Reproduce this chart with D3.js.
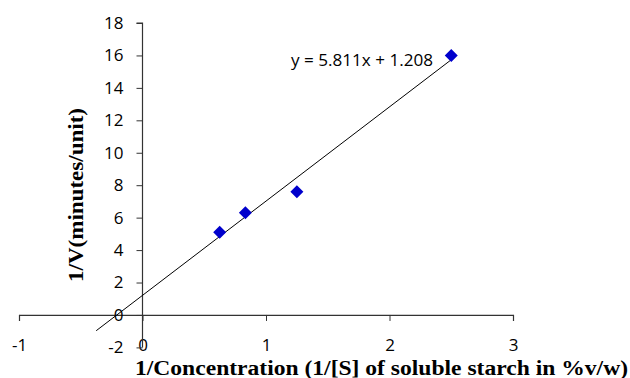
<!DOCTYPE html>
<html><head><meta charset="utf-8">
<script src="https://cdn.jsdelivr.net/npm/d3@7"></script>
<style>body{margin:0;background:#fff}svg{display:block}</style>
</head><body>
<svg id="c" width="630" height="378"></svg>
<script>
const xValues = [0.625, 0.833, 1.25, 2.5];
const yValues = [5.1, 6.3, 7.6, 16.0];
const xTicks = [-1, 0, 1, 2, 3];
const yTicks = [-2, 0, 2, 4, 6, 8, 10, 12, 14, 16, 18];
const slope = 5.811, intercept = 1.208;
const trendRange = [-0.375, 2.5];
const equationLabel = "y = 5.811x + 1.208";
const xTitle = "1/Concentration (1/[S] of soluble starch in %v/w)";
const yTitle = "1/V(minutes/unit)";

const svg = d3.select("#c");
const x = d3.scaleLinear().domain([-1, 3]).range([19, 513]);
const y = d3.scaleLinear().domain([-2, 18]).range([347.4, 23]);
const tickFont = "Open Sans, Liberation Sans, sans-serif";
const fmt = d => String(d);

// x axis along y=0
const xAxis = d3.axisBottom(x).tickValues(xTicks).tickSize(6).tickFormat(fmt);
const gx = svg.append("g").attr("transform", `translate(0,${y(0)})`).call(xAxis);
gx.select(".domain").attr("stroke", "#333").attr("stroke-width", 1.2);
gx.selectAll(".tick line").attr("stroke", "#333");
gx.selectAll(".tick text").attr("font-family", tickFont).attr("font-size", 17).attr("fill", "#000").attr("y", 24);

// y axis along x=0
const yAxis = d3.axisLeft(y).tickValues(yTicks).tickSize(6).tickFormat(fmt);
const gy = svg.append("g").attr("transform", `translate(${x(0)},0)`).call(yAxis);
gy.select(".domain").attr("stroke", "#333").attr("stroke-width", 1.2).attr("d", `M-6,${y(18)}H0V${y(-2)}`);
gy.selectAll(".tick line").attr("stroke", "#333");
gy.selectAll(".tick text").attr("font-family", tickFont).attr("font-size", 17).attr("fill", "#000").attr("x", -19);

// trend line
svg.append("line")
  .attr("x1", x(trendRange[0])).attr("y1", y(slope * trendRange[0] + intercept))
  .attr("x2", x(trendRange[1])).attr("y2", y(slope * trendRange[1] + intercept))
  .attr("stroke", "#000").attr("stroke-width", 1);

// points
const pts = xValues.map((v, i) => [v, yValues[i]]);
svg.append("g").selectAll("path").data(pts).enter().append("path")
  .attr("d", d3.symbol().type(d3.symbolSquare).size(85))
  .attr("transform", d => `translate(${x(d[0])},${y(d[1])}) rotate(45)`)
  .attr("fill", "#0000CC");

// equation
svg.append("text").attr("x", 291).attr("y", 66)
  .attr("font-family", tickFont).attr("font-size", 16).attr("fill", "#000")
  .attr("textLength", 142).attr("lengthAdjust", "spacingAndGlyphs")
  .text(equationLabel);

// titles
svg.append("text").attr("x", 135).attr("y", 375)
  .attr("font-family", "Liberation Serif, Times New Roman, serif").attr("font-weight", "bold")
  .attr("font-size", 20.5).attr("fill", "#000")
  .attr("textLength", 493).attr("lengthAdjust", "spacingAndGlyphs")
  .text(xTitle);

svg.append("text").attr("transform", "translate(83,282) rotate(-90)")
  .attr("font-family", "Liberation Serif, Times New Roman, serif").attr("font-weight", "bold")
  .attr("font-size", 20.5).attr("fill", "#000")
  .attr("textLength", 174).attr("lengthAdjust", "spacingAndGlyphs")
  .text(yTitle);
</script>
</body></html>
